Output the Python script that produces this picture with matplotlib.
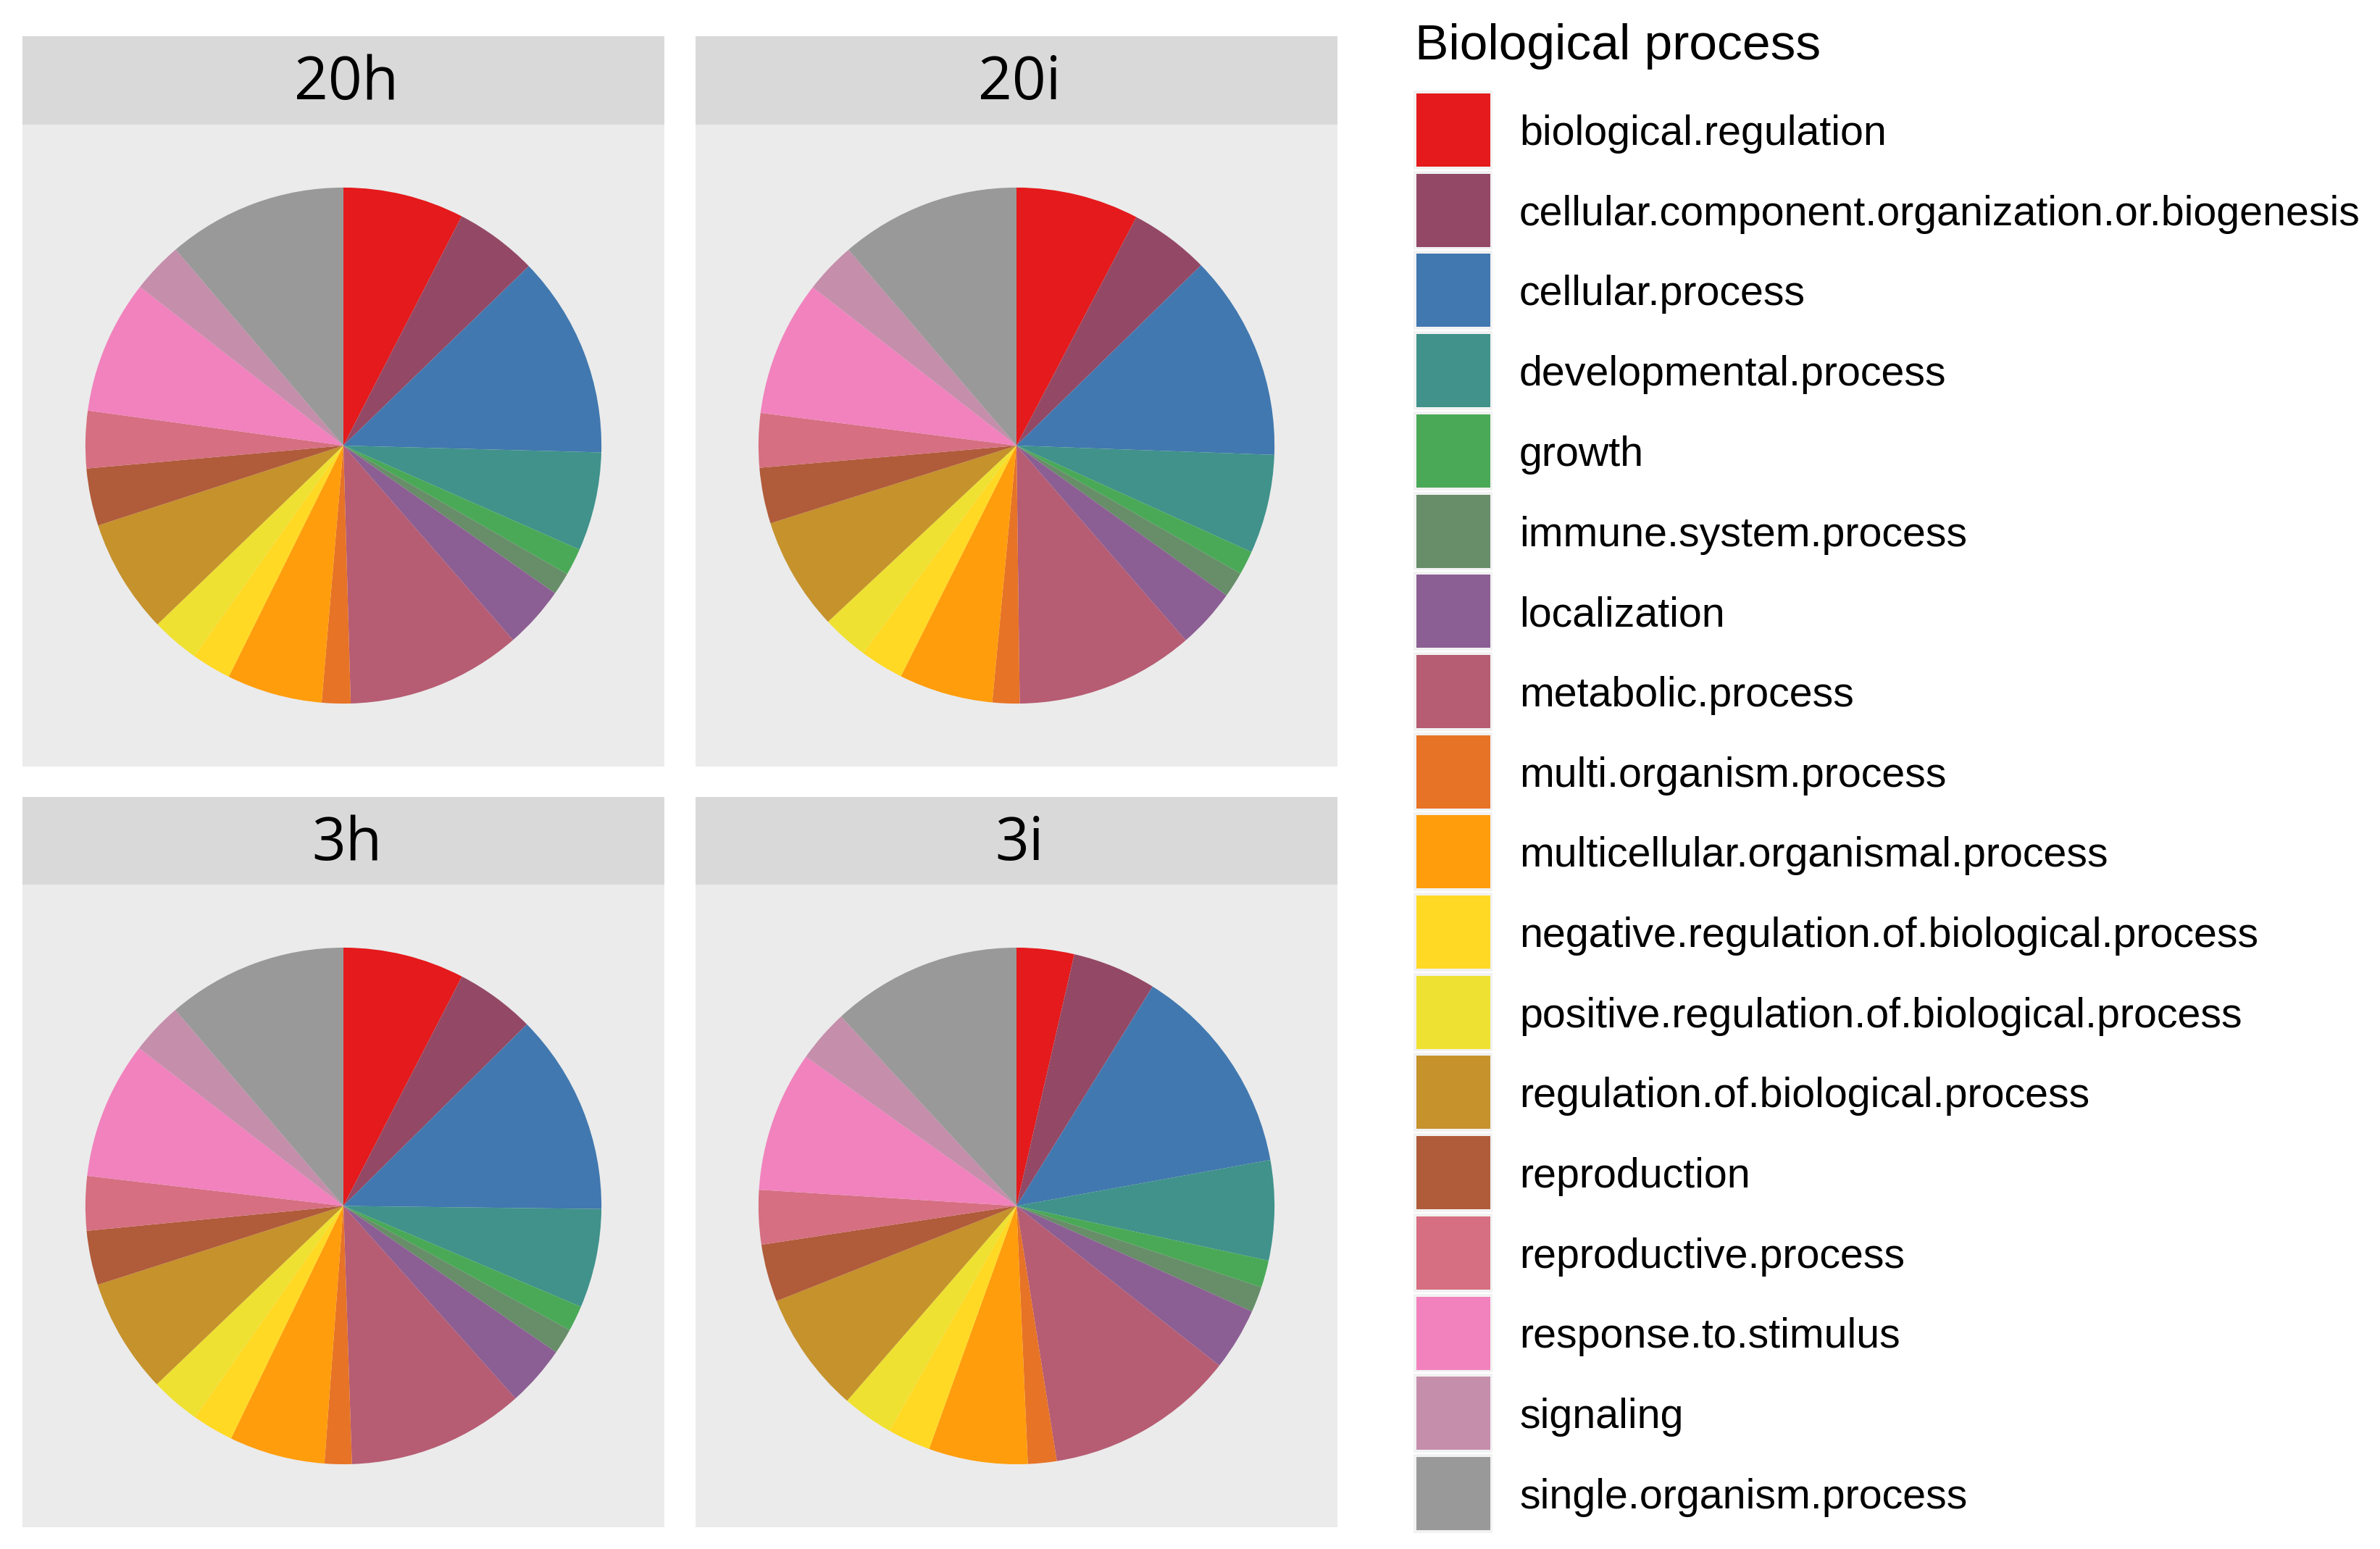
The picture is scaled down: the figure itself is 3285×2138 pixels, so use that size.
import numpy as np
import matplotlib
matplotlib.use("Agg")
import matplotlib.pyplot as plt
from matplotlib.patches import Rectangle

categories = [
    "biological.regulation",
    "cellular.component.organization.or.biogenesis",
    "cellular.process",
    "developmental.process",
    "growth",
    "immune.system.process",
    "localization",
    "metabolic.process",
    "multi.organism.process",
    "multicellular.organismal.process",
    "negative.regulation.of.biological.process",
    "positive.regulation.of.biological.process",
    "regulation.of.biological.process",
    "reproduction",
    "reproductive.process",
    "response.to.stimulus",
    "signaling",
    "single.organism.process",
]

panels = ["20h", "20i", "3h", "3i"]

vals_20h = [7.6, 5.2, 12.7, 6.2, 1.7, 1.4, 3.9, 11.0, 1.8, 6.0, 2.5, 3.0, 7.2, 3.6, 3.6, 8.4, 3.2, 11.3]
vals_20i = [7.7, 5.0, 12.9, 6.2, 1.5, 1.6, 3.75, 11.2, 1.7, 5.9, 2.75, 2.9, 7.1, 3.5, 3.4, 8.5, 3.2, 11.3]
vals_3h = [7.6, 5.0, 12.6, 6.2, 1.6, 1.6, 3.8, 11.1, 1.7, 6.0, 2.6, 3.1, 7.2, 3.4, 3.4, 8.6, 3.25, 11.3]
vals_3i = [3.6, 5.25, 13.3, 6.25, 1.7, 1.6, 3.9, 11.9, 1.8, 6.2, 2.7, 3.2, 7.6, 3.6, 3.4, 8.8, 3.3, 11.9]
panel_values = [vals_20h, vals_20i, vals_3h, vals_3i]

# Set1 palette ramped to 18 colours (linear in RGB)
set1 = ["#E41A1C", "#377EB8", "#4DAF4A", "#984EA3", "#FF7F00",
        "#FFFF33", "#A65628", "#F781BF", "#999999"]
base = np.array([matplotlib.colors.to_rgb(c) for c in set1])
pos = np.linspace(0, len(set1) - 1, len(categories))
colors = [tuple(np.interp(p, np.arange(len(set1)), base[:, k]) for k in range(3)) for p in pos]

W, H = 3285, 2138
fig = plt.figure(figsize=(W / 100, H / 100), dpi=100)
fig.patch.set_facecolor("white")

def fx(x):
    return x / W

def fy(y):
    return 1 - y / H

lefts = [31, 960]
rows = [(50, 172, 1058), (1100, 1221, 2108)]
pw = 886

for i, (name, vals) in enumerate(zip(panels, panel_values)):
    r, c = divmod(i, 2)
    st, sb, pb = rows[r]
    L = lefts[c]
    ax = fig.add_axes([fx(L), fy(pb), pw / W, (pb - sb) / H])
    ax.pie(vals, colors=colors, startangle=90, counterclock=False, radius=1.0,
           wedgeprops=dict(linewidth=0))
    ax.set_frame_on(True)
    ax.set_facecolor("#EBEBEB")
    lim = 1.244
    ax.set_xlim(-lim, lim)
    ax.set_ylim(-lim, lim)
    ax.set_aspect("auto")
    for s in ax.spines.values():
        s.set_visible(False)
    ax.set_xticks([])
    ax.set_yticks([])
    sax = fig.add_axes([fx(L), fy(sb), pw / W, (sb - st) / H])
    sax.set_facecolor("#D9D9D9")
    for s in sax.spines.values():
        s.set_visible(False)
    sax.set_xticks([])
    sax.set_yticks([])
    sax.text(0.505, 0.46, name, ha="center", va="center", fontsize=59,
             family="Open Sans", color="black", transform=sax.transAxes)

# legend
lax = fig.add_axes([0, 0, 1, 1], facecolor="none")
lax.set_xlim(0, W)
lax.set_ylim(H, 0)
lax.axis("off")
lax.text(1953, 64, "Biological process", ha="left", va="center", fontsize=50,
         family="Liberation Sans", color="black")
key_top = 124
pitch = 110.7
for j, (cat, col) in enumerate(zip(categories, colors)):
    y0 = key_top + j * pitch
    lax.add_patch(Rectangle((1950, y0), 111, pitch, facecolor="#F2F2F2", edgecolor="white", linewidth=1.5))
    lax.add_patch(Rectangle((1955, y0 + 5), 102, 101, facecolor=col, edgecolor="none"))
    lax.text(2097, y0 + 5 + 56, cat, ha="left", va="center", fontsize=41.3,
             family="Liberation Sans", color="black")

fig.savefig("out.png", dpi=100, facecolor="white")
